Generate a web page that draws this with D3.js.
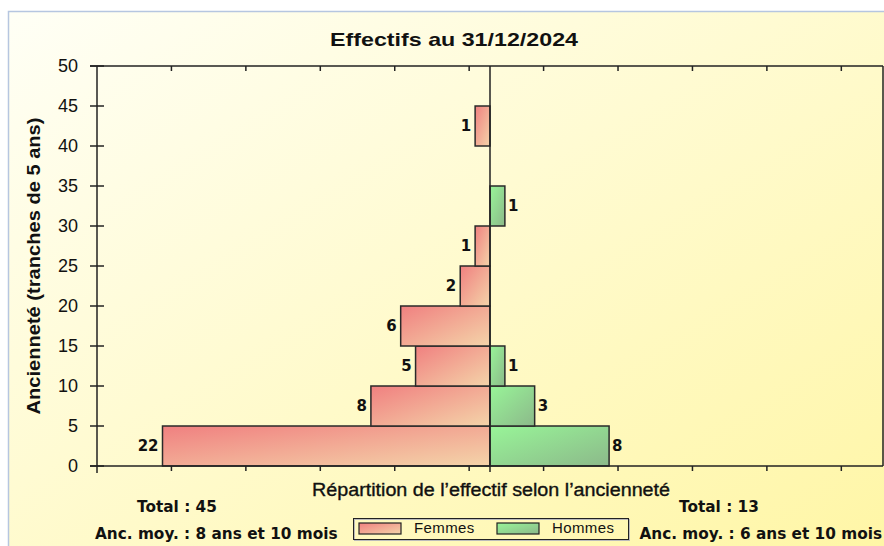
<!DOCTYPE html>
<html>
<head>
<meta charset="utf-8">
<script src="https://cdn.jsdelivr.net/npm/d3@7"></script>
<style>
  body { margin: 0; background: #fff; }
  text { font-family: "Liberation Sans", Arial, sans-serif; fill: #111; }
  .val, .info { font-family: "DejaVu Sans", Verdana, sans-serif; font-weight: bold; }
</style>
</head>
<body>
<div id="chart"></div>
<script>

// tranches d'ancienneté (début de tranche, en années)
const binStarts = [0, 5, 10, 15, 20, 25, 30, 35, 40, 45]
const binSize = 5
const femmes = [22, 8, 5, 6, 2, 1, 0, 0, 1, 0]
const hommes = [8, 3, 1, 0, 0, 0, 1, 0, 0, 0]
const yTicks = [0, 5, 10, 15, 20, 25, 30, 35, 40, 45, 50]
const seriesNames = ['Femmes', 'Hommes']
const ancMoy = ['8 ans et 10 mois', '6 ans et 10 mois']

const width = 884
const height = 546
const plot = { left: 97, right: 883, top: 66, bottom: 466 }

const svg = d3.select('#chart')
  .append('svg')
    .attr('width', width)
    .attr('height', height)

const defs = svg.append('defs')

function diagGradient(id, from, to) {
  const g = defs.append('linearGradient')
    .attr('id', id)
    .attr('x1', 0).attr('y1', 0)
    .attr('x2', 1).attr('y2', 1)
  g.append('stop').attr('offset', '0%').attr('stop-color', from)
  g.append('stop').attr('offset', '100%').attr('stop-color', to)
}
diagGradient('bg', '#fffff6', '#fff6a6')
diagGradient('gF', '#f08080', '#f4d4a9')
diagGradient('gH', '#98f598', '#8cb98a')

// panel background
svg.append('rect')
  .attr('x', 8).attr('y', 11)
  .attr('width', width - 8).attr('height', height - 11)
  .attr('fill', 'url(#bg)')
svg.append('path')
  .attr('d', `M8.5,${height}V11.5H${width}`)
  .attr('fill', 'none')
  .attr('stroke', '#b6c6e0')
  .attr('stroke-width', 1.5)

// scales
const maxVal = d3.max(femmes.concat(hommes))
const xMax = maxVal * 1.2
const x = d3.scaleLinear()
  .domain([-xMax, xMax])
  .range([plot.left, plot.right])

const y = d3.scaleLinear()
  .domain([0, 50])
  .range([plot.bottom, plot.top])

const xTicks = d3.range(1, 11).map(k => -xMax + k * binSize)

// title
svg.append('text')
  .attr('x', 454).attr('y', 46)
  .attr('text-anchor', 'middle')
  .attr('font-size', 19)
  .attr('font-weight', 'bold')
  .attr('textLength', 248)
  .attr('lengthAdjust', 'spacingAndGlyphs')
  .text('Effectifs au 31/12/2024')

// bars
const rows = binStarts.map((b, i) => ({ b: b, f: femmes[i], h: hommes[i] }))
const bars = svg.append('g')

bars.selectAll('rect.f')
  .data(rows.filter(d => d.f > 0))
  .join('rect')
    .attr('class', 'f')
    .attr('x', d => x(-d.f))
    .attr('y', d => y(d.b + binSize))
    .attr('width', d => x(0) - x(-d.f))
    .attr('height', d => y(d.b) - y(d.b + binSize))
    .attr('fill', 'url(#gF)')
    .attr('stroke', '#2a2a2a')
    .attr('stroke-width', 1.5)

bars.selectAll('rect.h')
  .data(rows.filter(d => d.h > 0))
  .join('rect')
    .attr('class', 'h')
    .attr('x', x(0))
    .attr('y', d => y(d.b + binSize))
    .attr('width', d => x(d.h) - x(0))
    .attr('height', d => y(d.b) - y(d.b + binSize))
    .attr('fill', 'url(#gH)')
    .attr('stroke', '#2a2a2a')
    .attr('stroke-width', 1.5)

bars.selectAll('text.vf')
  .data(rows.filter(d => d.f > 0))
  .join('text')
    .attr('class', 'val vf')
    .attr('x', d => x(-d.f) - 4)
    .attr('y', d => y(d.b + binSize / 2))
    .attr('dy', '0.36em')
    .attr('text-anchor', 'end')
    .attr('font-size', 15)
    .text(d => d.f)

bars.selectAll('text.vh')
  .data(rows.filter(d => d.h > 0))
  .join('text')
    .attr('class', 'val vh')
    .attr('x', d => x(d.h) + 3)
    .attr('y', d => y(d.b + binSize / 2))
    .attr('dy', '0.36em')
    .attr('font-size', 15)
    .text(d => d.h)

// axes
const axisStroke = '#222'
const ax = svg.append('g')
  .attr('stroke', axisStroke)
  .attr('stroke-width', 1.5)
  .attr('fill', 'none')

ax.append('line')
  .attr('x1', plot.left).attr('x2', plot.left)
  .attr('y1', plot.top).attr('y2', plot.bottom + 7)
ax.append('line')
  .attr('x1', plot.left - 7).attr('x2', plot.right)
  .attr('y1', plot.bottom).attr('y2', plot.bottom)
ax.append('line')
  .attr('x1', plot.left - 7).attr('x2', plot.right)
  .attr('y1', plot.top).attr('y2', plot.top)
ax.append('line')
  .attr('x1', plot.right).attr('x2', plot.right)
  .attr('y1', plot.top).attr('y2', plot.bottom)
ax.append('line')
  .attr('x1', x(0)).attr('x2', x(0))
  .attr('y1', plot.top).attr('y2', plot.bottom + 6)

// y ticks cross the axis
ax.selectAll('line.yt')
  .data(yTicks)
  .join('line')
    .attr('class', 'yt')
    .attr('x1', plot.left - 7).attr('x2', plot.left + 7)
    .attr('y1', d => y(d)).attr('y2', d => y(d))

// x ticks: below bottom axis, inside under top axis
ax.selectAll('line.xb')
  .data(xTicks)
  .join('line')
    .attr('class', 'xb')
    .attr('x1', d => x(d)).attr('x2', d => x(d))
    .attr('y1', plot.bottom).attr('y2', plot.bottom + 5)
ax.selectAll('line.xt')
  .data(xTicks)
  .join('line')
    .attr('class', 'xt')
    .attr('x1', d => x(d)).attr('x2', d => x(d))
    .attr('y1', plot.top).attr('y2', plot.top + 5)

svg.append('g').selectAll('text')
  .data(yTicks)
  .join('text')
    .attr('x', 78)
    .attr('y', d => y(d))
    .attr('dy', '0.36em')
    .attr('text-anchor', 'end')
    .attr('font-size', 18)
    .attr('fill', '#222')
    .text(d => d)

// axis titles
svg.append('text')
  .attr('transform', 'translate(40,266) rotate(-90)')
  .attr('text-anchor', 'middle')
  .attr('font-size', 18)
  .attr('font-weight', 'bold')
  .attr('textLength', 297)
  .attr('lengthAdjust', 'spacingAndGlyphs')
  .text('Ancienneté (tranches de 5 ans)')

svg.append('text')
  .attr('x', 491).attr('y', 496)
  .attr('text-anchor', 'middle')
  .attr('font-size', 18)
  .attr('stroke', '#111')
  .attr('stroke-width', 0.35)
  .attr('textLength', 358)
  .attr('lengthAdjust', 'spacingAndGlyphs')
  .text('Répartition de l\u2019effectif selon l\u2019ancienneté')

// totals and average seniority
const totF = d3.sum(femmes)
const totH = d3.sum(hommes)

svg.append('text').attr('class', 'info')
  .attr('x', 177).attr('y', 512)
  .attr('text-anchor', 'middle')
  .attr('font-size', 15.3)
  .text('Total : ' + totF)
svg.append('text').attr('class', 'info')
  .attr('x', 95).attr('y', 539)
  .attr('font-size', 15.3)
  .text('Anc. moy. : ' + ancMoy[0])
svg.append('text').attr('class', 'info')
  .attr('x', 719).attr('y', 512)
  .attr('text-anchor', 'middle')
  .attr('font-size', 15.3)
  .text('Total : ' + totH)
svg.append('text').attr('class', 'info')
  .attr('x', 882).attr('y', 539)
  .attr('text-anchor', 'end')
  .attr('font-size', 15.3)
  .text('Anc. moy. : ' + ancMoy[1])

// legend
const legend = svg.append('g').attr('transform', 'translate(353,518)')
legend.append('rect')
  .attr('x', 1.5).attr('y', 1.5)
  .attr('width', 275).attr('height', 21)
  .attr('fill', 'none')
  .attr('stroke', '#bbb')
legend.append('rect')
  .attr('x', 0.5).attr('y', 0.5)
  .attr('width', 275).attr('height', 21)
  .attr('fill', 'none')
  .attr('stroke', '#222')

const items = legend.selectAll('g.item')
  .data(seriesNames)
  .join('g')
    .attr('class', 'item')
    .attr('transform', (d, i) => `translate(${6 + i * 138},5)`)
items.append('rect')
  .attr('width', 42).attr('height', 11)
  .attr('fill', (d, i) => i === 0 ? 'url(#gF)' : 'url(#gH)')
  .attr('stroke', '#222')
  .attr('stroke-width', 1.2)
items.append('text')
  .attr('x', 55).attr('y', 10)
  .attr('font-size', 15)
  .attr('letter-spacing', 0.4)
  .attr('fill', '#222')
  .text(d => d)

</script>
</body>
</html>
